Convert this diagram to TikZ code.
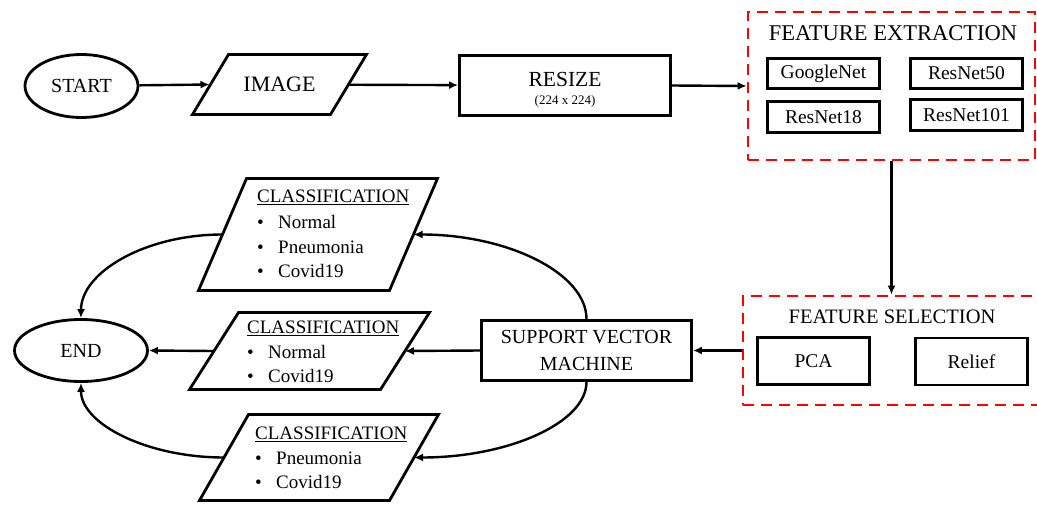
\documentclass[tikz,border=0pt]{standalone}
\usepackage{fontspec}
\setmainfont{Liberation Serif}
\usetikzlibrary{arrows.meta,positioning,shapes.geometric}

\newcommand{\bul}{\makebox[21pt][l]{\textbullet}}
% slanted frame round a (hidden) rectangle node: #1 node, #2 half slant
\newcommand{\slantframe}[2]{%
  \draw[frame] ([xshift=#2]#1.north west) -- ([xshift=#2]#1.north east)
    -- ([xshift=-#2]#1.south east) -- ([xshift=-#2]#1.south west) -- cycle;}

\begin{document}
\begin{tikzpicture}[x=1pt,y=-1pt,
  frame/.style={line width=2.8pt, line join=miter},
  term/.style={ellipse, draw, line width=2.8pt, inner sep=0pt, font=\fontsize{20}{24}\selectfont},
  box/.style={draw, line width=2.8pt, inner sep=0pt, align=center},
  model/.style={box, minimum width=112pt, minimum height=30pt, font=\fontsize{19.5}{23}\selectfont},
  para/.style={inner sep=0pt, outer sep=0pt},
  group/.style={draw=red, line width=2.8pt, dash pattern=on 11pt off 7pt, inner sep=0pt},
  arr/.style={-{Latex[length=9pt,width=8pt]}, line width=2.4pt},
  clstext/.style={align=left, inner sep=0pt, anchor=west, font=\fontsize{19}{24.5}\selectfont}]

\useasboundingbox (0,0) rectangle (1037,525);

% Top row
\node[term, minimum width=113pt, minimum height=63pt] (start) at (81.5,86) {START};
\node[para, minimum width=138pt, minimum height=60pt, font=\fontsize{22}{26}\selectfont] (image) at (279.5,84.5) {IMAGE};
\slantframe{image}{18pt}
\node[box, minimum width=211pt, minimum height=60pt] (resize) at (565,85.5) {};
\node[font=\fontsize{21.5}{24}\selectfont, inner sep=0pt] (resizelbl) at (565,79) {RESIZE};
\node[font=\fontsize{13}{15}\selectfont, inner sep=0pt] (resizedim) at (565,101) {(224 x 224)};

% Feature extraction
\node[group, minimum width=287pt, minimum height=148pt] (fe) at (891.5,86) {};
\node[font=\fontsize{22.5}{26}\selectfont, inner sep=0pt] (fetitle) at (893,33) {FEATURE EXTRACTION};
\node[model] (googlenet) at (823.5,73.5) {GoogleNet};
\node[model] (resnet50) at (966.5,73.5) {ResNet50};
\node[model, minimum height=31pt] (resnet18) at (823.5,117) {ResNet18};
\node[model, minimum height=31pt] (resnet101) at (966.5,115) {ResNet101};

% Feature selection
\node[group, minimum width=297pt, minimum height=109pt] (fs) at (891.5,350.5) {};
\node[font=\fontsize{20.5}{24}\selectfont, inner sep=0pt] (fstitle) at (892,317) {FEATURE SELECTION};
\node[model, minimum height=47pt] (pca) at (813.5,361) {PCA};
\node[model, minimum height=47pt] (relief) at (971.5,361.5) {Relief};

% Classifier
\node[box, minimum width=210pt, minimum height=60pt, font=\fontsize{20}{27}\selectfont] (svm) at (586.5,350.5) {SUPPORT VECTOR\\MACHINE};

% Classification outputs
\node[para, minimum width=191pt, minimum height=112pt] (cls1) at (318,234.5) {};
\slantframe{cls1}{24pt}
\node[clstext] (cls1txt) at (257,234) {\underline{CLASSIFICATION}\\[2pt]\bul Normal\\\bul Pneumonia\\\bul Covid19};
\node[para, minimum width=191pt, minimum height=77pt] (cls2) at (309.5,351) {};
\slantframe{cls2}{24.5pt}
\node[clstext] (cls2txt) at (247,352) {\underline{CLASSIFICATION}\\[0pt]\bul Normal\\\bul Covid19};
\node[para, minimum width=190pt, minimum height=86pt] (cls3) at (319,457.5) {};
\slantframe{cls3}{24.5pt}
\node[clstext] (cls3txt) at (255,458) {\underline{CLASSIFICATION}\\[0pt]\bul Pneumonia\\\bul Covid19};

\node[term, minimum width=133pt, minimum height=62pt] (end) at (81,350.5) {END};

% Connectors
\draw[arr] (start) -- ([xshift=-1pt]image.west);
\draw[arr] (image) -- (resize);
\draw[arr] (resize.east) -- (fe.west);
\draw[arr] (fe.south) -- (fs.north);
\draw[arr] (fs.west) -- (svm.east);
\draw[arr] (svm.west) -- (cls2.east);
\draw[arr] (cls2.west) -- (end.east);
\draw[arr] (svm.north) .. controls +(0,-46) and +(94,0) .. (cls1.east);
\draw[arr] (svm.south) .. controls +(0,41) and +(94,0) .. (cls3.east);
\draw[arr] (cls1.west) .. controls +(-77,0) and +(0,-46) .. (end.north);
\draw[arr] (cls3.west) .. controls +(-77,0) and +(0,41) .. (end.south);

\end{tikzpicture}
\end{document}
